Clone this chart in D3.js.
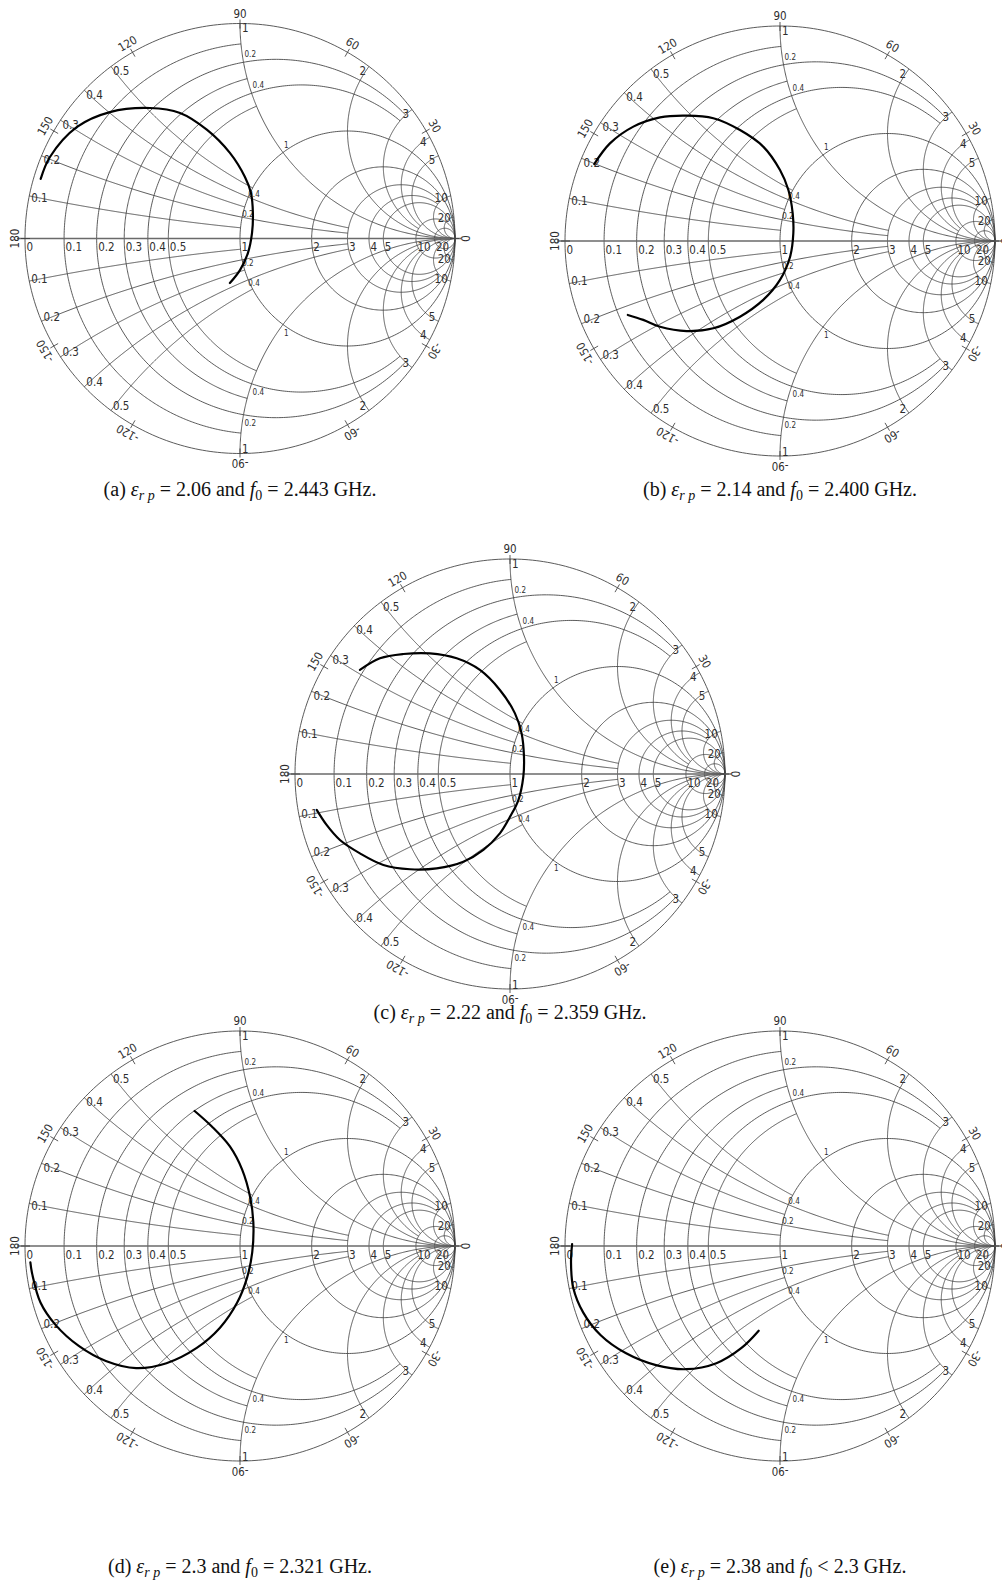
<!DOCTYPE html>
<html>
<head>
<meta charset="utf-8">
<script src="https://cdn.jsdelivr.net/npm/d3@7"></script>
<style>
  html, body { margin: 0; padding: 0; background: #ffffff; }
  svg { display: block; }
</style>
</head>
<body>
<svg id="fig" width="1002" height="1582"></svg>
<script>
// ---- grid definition -------------------------------------------------------
// normalized resistance / reactance values of the grid and where each line stops
const gridValues = [0.1, 0.2, 0.3, 0.4, 0.5, 1, 2, 3, 4, 5, 10, 20];
const gridLimits = [1, 3, 1, 3, 1, Infinity, Infinity, 10, 10, Infinity, Infinity, Infinity];

// labels along the real axis (resistance)
const axisValues = [0, 0.1, 0.2, 0.3, 0.4, 0.5, 1, 2, 3, 4, 5, 10, 20];
const axisLabels = ["0", "0.1", "0.2", "0.3", "0.4", "0.5", "1", "2", "3", "4", "5", "10", "20"];

// reactance labels just inside the outer circle
const edgeValues = [0.1, 0.2, 0.3, 0.4, 0.5, 1, 2, 3, 4, 5, 10, 20];
const edgeLabels = ["0.1", "0.2", "0.3", "0.4", "0.5", "1", "2", "3", "4", "5", "10", "20"];

// reactance labels on the r = 1 circle, resistance labels on the x = ±1 arcs
const innerXValues = [0.2, 0.4];
const innerXLabels = ["0.2", "0.4"];
const innerRValues = [0.2, 0.4, 1];
const innerRLabels = ["0.2", "0.4", "1"];

// angle of the reflection coefficient, degrees
const angleValues = [0, 30, 60, 90, 120, 150, 180, -150, -120, -90, -60, -30];
const angleLabels = ["0", "30", "60", "90", "120", "150", "180", "-150", "-120", "-90", "-60", "-30"];

// ---- measured reflection coefficient traces (real, imaginary) -------------
const traceA_re = [-0.927, -0.884, -0.758, -0.605, -0.419, -0.279, -0.153, -0.047, 0.023, 0.051, 0.060, 0.056, 0.037, 0.000, -0.047];
const traceA_im = [0.277, 0.379, 0.519, 0.588, 0.607, 0.584, 0.505, 0.398, 0.286, 0.212, 0.119, 0.026, -0.067, -0.147, -0.207];

const traceB_re = [-0.864, -0.791, -0.682, -0.558, -0.434, -0.310, -0.186, -0.078, 0.000, 0.039, 0.059, 0.062, 0.047, 0.000, -0.078, -0.186, -0.310, -0.434, -0.558, -0.636, -0.708];
const traceB_im = [0.358, 0.454, 0.532, 0.575, 0.583, 0.571, 0.516, 0.439, 0.330, 0.237, 0.129, 0.036, -0.073, -0.181, -0.274, -0.352, -0.406, -0.419, -0.399, -0.367, -0.344];

const traceC_re = [-0.698, -0.605, -0.496, -0.372, -0.248, -0.140, -0.047, 0.023, 0.054, 0.065, 0.062, 0.039, 0.000, -0.047, -0.124, -0.217, -0.341, -0.465, -0.589, -0.698, -0.791, -0.853, -0.899];
const traceC_im = [0.484, 0.538, 0.558, 0.561, 0.538, 0.484, 0.391, 0.282, 0.189, 0.080, -0.012, -0.121, -0.199, -0.276, -0.353, -0.408, -0.439, -0.443, -0.423, -0.369, -0.307, -0.237, -0.167];

const traceD_re = [-0.211, -0.131, -0.047, 0.010, 0.047, 0.062, 0.057, 0.033, -0.013, -0.093, -0.201, -0.342, -0.483, -0.624, -0.750, -0.858, -0.928, -0.966, -0.975];
const traceD_im = [0.628, 0.556, 0.463, 0.355, 0.228, 0.111, -0.029, -0.147, -0.263, -0.380, -0.474, -0.545, -0.568, -0.535, -0.465, -0.367, -0.263, -0.132, -0.076];

const traceE_re = [-0.967, -0.972, -0.962, -0.915, -0.835, -0.718, -0.577, -0.437, -0.296, -0.179, -0.099];
const traceE_im = [0.009, -0.076, -0.193, -0.310, -0.414, -0.498, -0.554, -0.573, -0.545, -0.474, -0.394];

// ---- sub-figure captions ---------------------------------------------------
const captionTags = ["(a)", "(b)", "(c)", "(d)", "(e)"];
const captionEps = ["2.06", "2.14", "2.22", "2.3", "2.38"];
const captionFreqRel = ["=", "=", "=", "=", "<"];
const captionFreq = ["2.443", "2.400", "2.359", "2.321", "2.3"];

// ---- layout of the five charts --------------------------------------------
const layout = [
  { cx: 240, cy: 238.5, capY: 496 },
  { cx: 780, cy: 241, capY: 496 },
  { cx: 510, cy: 774, capY: 1019 },
  { cx: 240, cy: 1246, capY: 1573 },
  { cx: 780, cy: 1246, capY: 1573 }
];
const R = 215;
const traces = [
  [traceA_re, traceA_im], [traceB_re, traceB_im], [traceC_re, traceC_im],
  [traceD_re, traceD_im], [traceE_re, traceE_im]
];

const GRID = "#3d3d3d";
const TEXT = "#2e2e2e";
const labelFont = "'Liberation Sans Narrow', 'DejaVu Sans Condensed', 'Arial Narrow', sans-serif";

// z = r + jx  ->  reflection coefficient
function gamma(r, x) {
  const d = (r + 1) * (r + 1) + x * x;
  return [(r * r + x * x - 1) / d, 2 * x / d];
}

// constant-resistance circle, drawn for |x| <= lim
function resistancePts(r, lim) {
  const c = r / (1 + r), rho = 1 / (1 + r);
  let a1, a2;
  if (!isFinite(lim)) { a1 = 0; a2 = 2 * Math.PI; }
  else {
    const p = gamma(r, lim);
    a1 = Math.atan2(p[1], p[0] - c);
    a2 = 2 * Math.PI - a1;
  }
  return d3.range(0, 361).map(i => {
    const a = a1 + (a2 - a1) * i / 360;
    return [c + rho * Math.cos(a), rho * Math.sin(a)];
  });
}

// constant-reactance arc, drawn from r = 0 up to r = lim
function reactancePts(x, lim) {
  const ox = 1, oy = 1 / x, rho = 1 / Math.abs(x);
  const p0 = gamma(0, x);
  const p1 = isFinite(lim) ? gamma(lim, x) : [1, 0];
  const a0 = Math.atan2(p0[1] - oy, p0[0] - ox);
  let da = Math.atan2(p1[1] - oy, p1[0] - ox) - a0;
  while (da > Math.PI) da -= 2 * Math.PI;
  while (da <= -Math.PI) da += 2 * Math.PI;
  return d3.range(0, 301).map(i => {
    const a = a0 + da * i / 300;
    return [ox + rho * Math.cos(a), oy + rho * Math.sin(a)];
  });
}

const svg = d3.select("#fig");

function drawChart(k) {
  const L = layout[k];
  const xs = d3.scaleLinear().domain([-1, 1]).range([L.cx - R, L.cx + R]);
  const ys = d3.scaleLinear().domain([-1, 1]).range([L.cy + R, L.cy - R]);
  const line = d3.line().x(d => xs(d[0])).y(d => ys(d[1]));
  const g = svg.append("g").attr("class", "smith");

  const grid = g.append("g").attr("fill", "none").attr("stroke", GRID).attr("stroke-width", 0.85);

  // outer circle
  grid.append("path").attr("d", line(d3.range(0, 361).map(i => [Math.cos(i * Math.PI / 180), Math.sin(i * Math.PI / 180)])));

  // resistance circles and reactance arcs
  gridValues.forEach((v, i) => {
    grid.append("path").attr("d", line(resistancePts(v, gridLimits[i])));
    grid.append("path").attr("d", line(reactancePts(v, gridLimits[i])));
    grid.append("path").attr("d", line(reactancePts(-v, gridLimits[i])));
  });

  // real axis
  g.append("line")
    .attr("x1", xs(-1) - 8).attr("x2", xs(1) + 6)
    .attr("y1", ys(0)).attr("y2", ys(0))
    .attr("stroke", "#6a6a6a").attr("stroke-width", 1.4);

  // angle ticks and labels
  const ang = g.append("g");
  angleValues.forEach((a, i) => {
    const t = a * Math.PI / 180;
    const c = Math.cos(t), s = Math.sin(t);
    ang.append("line")
      .attr("x1", xs(c) - 5 * c).attr("y1", ys(s) + 5 * s)
      .attr("x2", xs(c) + 4 * c).attr("y2", ys(s) - 4 * s)
      .attr("stroke", GRID).attr("stroke-width", 0.85);
    const px = L.cx + (R + 10) * c, py = L.cy - (R + 10) * s;
    ang.append("text")
      .attr("transform", `translate(${px},${py}) rotate(${90 - a})`)
      .attr("text-anchor", "middle").attr("dy", "0.35em")
      .attr("font-family", labelFont).attr("font-size", 11.5).attr("fill", TEXT)
      .text(angleLabels[i]);
  });

  const txt = g.append("g").attr("font-family", labelFont).attr("fill", TEXT);

  // resistance labels on the axis
  axisValues.forEach((r, i) => {
    const p = gamma(r, 0);
    txt.append("text").attr("x", xs(p[0]) + 1.5).attr("y", ys(0) + 12.5)
      .attr("font-size", 11.5).text(axisLabels[i]);
  });

  // reactance labels at the rim
  edgeValues.forEach((x, i) => {
    [1, -1].forEach(sg => {
      const p = gamma(0, sg * x);
      const px = xs(p[0]), py = ys(p[1]);
      const f = Math.min(1, Math.abs(p[1]) * 2.5);
      const yc = py + sg * f * 4.5;
      const left = p[0] < 0.05;
      txt.append("text")
        .attr("x", left ? px + 2 : px - 3).attr("y", yc).attr("dy", "0.35em")
        .attr("text-anchor", left ? "start" : "end")
        .attr("font-size", 11.5).text(edgeLabels[i]);
    });
  });

  // reactance labels on the r = 1 circle
  innerXValues.forEach((x, i) => {
    [1, -1].forEach(sg => {
      const p = gamma(1, sg * x);
      txt.append("text").attr("x", xs(p[0])).attr("y", ys(p[1]) + (sg > 0 ? -0.5 : 6.5))
        .attr("font-size", 8).text(innerXLabels[i]);
    });
  });

  // resistance labels on the x = ±1 arcs
  innerRValues.forEach((r, i) => {
    [1, -1].forEach(sg => {
      const p = gamma(r, sg);
      txt.append("text").attr("x", xs(p[0]) + 1).attr("y", ys(p[1]) + (sg > 0 ? -5 : 11))
        .attr("font-size", 8).text(innerRLabels[i]);
    });
  });

  // measured trace
  const tr = traces[k];
  const pts = tr[0].map((u, j) => [u, tr[1][j]]);
  g.append("path")
    .attr("d", d3.line().curve(d3.curveCatmullRom.alpha(0.5)).x(d => xs(d[0])).y(d => ys(d[1]))(pts))
    .attr("fill", "none").attr("stroke", "#000").attr("stroke-width", 2.2)
    .attr("stroke-linecap", "round");

  // caption
  const cap = svg.append("text")
    .attr("x", L.cx).attr("y", L.capY).attr("text-anchor", "middle")
    .attr("font-family", "'Liberation Serif', 'DejaVu Serif', serif")
    .attr("font-size", 20).attr("fill", "#111");
  cap.append("tspan").text(captionTags[k] + " ");
  cap.append("tspan").attr("font-style", "italic").text("\u03B5");
  cap.append("tspan").attr("font-style", "italic").attr("font-size", 14).attr("dy", 4).text("r p");
  cap.append("tspan").attr("dy", -4).text(" = " + captionEps[k] + " and ");
  cap.append("tspan").attr("font-style", "italic").text("f");
  cap.append("tspan").attr("font-size", 14).attr("dy", 4).text("0");
  cap.append("tspan").attr("dy", -4).text(" " + captionFreqRel[k] + " " + captionFreq[k] + " GHz.");
}

for (let k = 0; k < 5; k++) drawChart(k);
</script>
</body>
</html>
